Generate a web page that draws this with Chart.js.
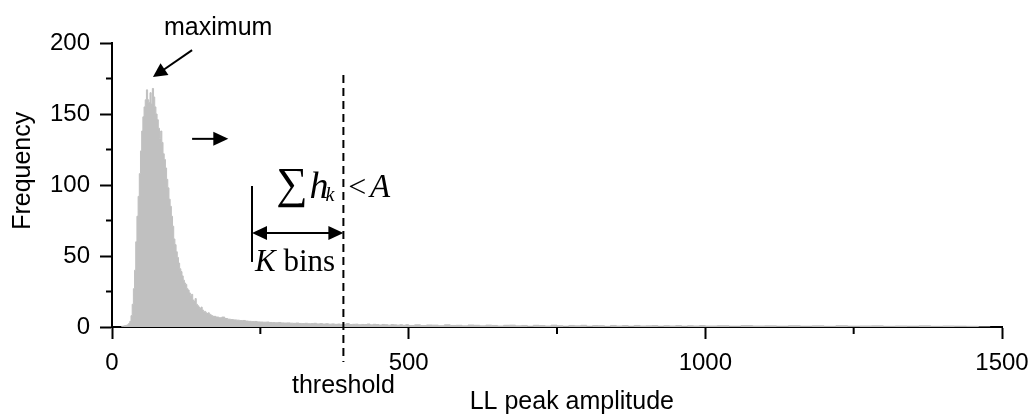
<!DOCTYPE html>
<html><head><meta charset="utf-8">
<script src="https://cdn.jsdelivr.net/npm/chart.js@4.4.0/dist/chart.umd.min.js"></script>
<style>html,body{margin:0;padding:0;background:#fff;}#wrap{width:1029px;height:414px;}</style>
</head><body><div id="wrap"><canvas id="c" width="1029" height="414"></canvas></div>
<script>
// ---- data (bin left edges, counts) ----
const binStart = [
  16,18,20,22,24,26,28,30,32,34,36,38,40,42,44,46,48,50,52,54,56,58,60,62,64,66,68,70,72,74,76,78,80,82,84,86,88,90,
  92,94,96,98,100,102,104,106,108,110,112,114,116,118,120,122,124,126,128,130,132,134,136,138,140,142,144,146,148,150,
  152,154,156,158,160,162,164,166,168,
  170,175,180,185,190,195,200,205,210,215,220,225,230,235,240,245,250,255,260,265,270,275,280,285,290,295,
  300,305,310,315,320,325,330,335,340,345,350,355,360,365,370,375,380,385,390,395,400,405,410,415,420,425,430,435,
  440,445,450,455,460,465,470,475,480,485,490,495,
  500,510,520,530,540,550,560,570,580,590,600,610,620,630,640,650,660,670,680,690,700,710,720,730,740,750,760,770,
  780,790,800,810,820,830,840,850,860,870,880,890,900,910,920,930,940,950,960,970,980,990,
  1000,1020,1040,1060,1080,1100,1120,1140,1160,1180,1200,1220,1240,1260,1280,1300,1320,1340,1360,1380,1400,1420,
  1440,1460,1480
];
const counts = [
  0.3,0.5,0.6,0.8,1,1.2,1.6,2.5,4,8,16,27,40,60,78,92,108,124,138,148,155,160,167,160,158,165,157,168,162,155,150,146,140,133,138,130,122,118,
  112,104,98,90,85,78,71,62,58,53,49,45,41,39,36,33,31,30,27,26,24,22,23,19,18,20,16,15,14,13,
  14,12,11,11,10,9.5,10,9,8.5,
  8,7.5,7,6.5,7,6,5.5,5.2,5,4.8,4.5,4.6,4.2,4,3.8,3.9,3.6,3.5,3.4,3.5,3.2,3.1,3,3.2,2.9,2.8,
  2.9,2.7,2.6,2.8,2.5,2.4,2.6,2.3,2.4,2.6,2.2,2.4,2.1,2.3,2.0,2.2,1.9,2.1,1.8,1.9,2.4,1.7,1.9,2.0,1.6,1.8,1.7,2.1,
  1.5,1.9,1.7,1.4,1.8,1.6,1.3,1.7,1.5,1.3,1.6,1.2,
  1.6,1.1,1.5,1.0,1.4,1.3,0.9,1.5,1.1,1.2,0.8,1.4,1.2,0.8,1.3,1.1,0.7,1.2,1.3,0.8,1.1,0.6,1.2,1.0,0.7,1.3,0.9,0.6,
  1.1,0.8,1.2,0.6,1.0,0.9,0.5,1.1,0.7,1.0,0.6,1.1,0.7,0.8,1.0,0.6,0.9,0.7,1.0,0.6,0.9,0.7,
  1.0,0.7,0.9,0.6,1.0,0.7,0.8,0.6,0.9,0.6,0.8,0.5,0.9,0.6,0.7,0.8,0.5,0.7,0.6,0.8,0.5,0.7,
  0.6,0.5,0
];
const xTicks = [0, 500, 1000, 1500];
const yTicks = [0, 50, 100, 150, 200];
const xMinorTicks = [250, 750, 1250];
const yMinorTicks = [25, 75, 125, 175];
const thresholdValue = 390;
const xTitle = 'LL peak amplitude';
const yTitle = 'Frequency';

const SANS = "'Liberation Sans', Arial, sans-serif";
const SERIF = "'Liberation Serif', 'Times New Roman', serif";

function arrowHead(ctx, x1, y1, x2, y2, len, half) {
  const a = Math.atan2(y2 - y1, x2 - x1);
  ctx.beginPath();
  ctx.moveTo(x2, y2);
  ctx.lineTo(x2 - len * Math.cos(a) + half * Math.sin(a), y2 - len * Math.sin(a) - half * Math.cos(a));
  ctx.lineTo(x2 - len * Math.cos(a) - half * Math.sin(a), y2 - len * Math.sin(a) + half * Math.cos(a));
  ctx.closePath();
  ctx.fill();
}
function arrowLine(ctx, x1, y1, x2, y2, len, half) {
  const a = Math.atan2(y2 - y1, x2 - x1);
  ctx.beginPath();
  ctx.moveTo(x1, y1);
  ctx.lineTo(x2 - (len - 1) * Math.cos(a), y2 - (len - 1) * Math.sin(a));
  ctx.stroke();
  arrowHead(ctx, x1, y1, x2, y2, len, half);
}

const annot = {
  id: 'annot',
  afterDraw(chart) {
    const ctx = chart.ctx, X = chart.scales.x, Y = chart.scales.y;
    const px = v => X.getPixelForValue(v), py = v => Y.getPixelForValue(v);
    ctx.save();
    ctx.strokeStyle = '#000'; ctx.fillStyle = '#000';
    // minor ticks
    ctx.lineWidth = 2;
    const x0 = px(0), y0 = py(0);
    yMinorTicks.forEach(v => { ctx.beginPath(); ctx.moveTo(x0 - 6, py(v)); ctx.lineTo(x0, py(v)); ctx.stroke(); });
    xMinorTicks.forEach(v => { ctx.beginPath(); ctx.moveTo(px(v), y0); ctx.lineTo(px(v), y0 + 7); ctx.stroke(); });

    // axis titles
    ctx.font = '25px ' + SANS;
    ctx.textAlign = 'center'; ctx.textBaseline = 'alphabetic';
    ctx.fillText(xTitle, px(775), py(-58));
    ctx.save();
    ctx.translate(px(-150), py(110));
    ctx.rotate(-Math.PI / 2);
    ctx.textBaseline = 'middle';
    ctx.fillText(yTitle, 0, 0);
    ctx.restore();

    // maximum label + arrow
    ctx.fillText('maximum', px(179), py(205.5));
    ctx.lineWidth = 2;
    arrowLine(ctx, px(135), py(195), px(69), py(176), 14, 7);
    // right arrow
    arrowLine(ctx, px(135), py(132.5), px(196), py(132.5), 15, 7);

    // threshold dashed line
    ctx.lineWidth = 2;
    ctx.setLineDash([8, 5]);
    ctx.beginPath(); ctx.moveTo(px(thresholdValue), py(177.5)); ctx.lineTo(px(thresholdValue), py(-24.6)); ctx.stroke();
    ctx.setLineDash([]);
    ctx.fillText('threshold', px(thresholdValue), py(-46.5));

    // K bins bracket
    ctx.lineWidth = 2;
    ctx.beginPath(); ctx.moveTo(px(236), py(99.3)); ctx.lineTo(px(236), py(45.8)); ctx.stroke();
    const ya = py(66.2), xl = px(236), xr = px(thresholdValue);
    ctx.beginPath(); ctx.moveTo(xl + 14, ya); ctx.lineTo(xr - 14, ya); ctx.stroke();
    arrowHead(ctx, xr, ya, xl, ya, 15, 7);
    arrowHead(ctx, xl, ya, xr, ya, 15, 7);

    // formula
    ctx.textAlign = 'left';
    ctx.font = '44px ' + SERIF;
    ctx.fillText('\u2211', px(277), py(90.5));
    ctx.font = 'italic 38px ' + SERIF;
    ctx.fillText('h', px(333), py(91));
    ctx.font = 'italic 20px ' + SERIF;
    ctx.fillText('k', px(360), py(88.5));
    ctx.font = '32px ' + SERIF;
    ctx.fillText('<', px(398), py(91.5));
    ctx.font = 'italic 33px ' + SERIF;
    ctx.fillText('A', px(435), py(91.5));
    ctx.font = 'italic 31px ' + SERIF;
    ctx.fillText('K', px(241), py(39.4));
    const kw = ctx.measureText('K ').width;
    ctx.font = '31px ' + SERIF;
    ctx.fillText('bins', px(241) + kw, py(39.4));
    ctx.restore();
  }
};

const points = binStart.map((x, i) => ({ x: x, y: counts[i] }));

new Chart(document.getElementById('c'), {
  type: 'line',
  data: { datasets: [{
    data: points,
    stepped: 'after',
    fill: 'origin',
    backgroundColor: '#c0c0c0',
    borderColor: '#c0c0c0',
    borderWidth: 1,
    pointRadius: 0,
    tension: 0
  }] },
  options: {
    responsive: false,
    animation: false,
    events: [],
    layout: { padding: { top: 43, right: 27, left: 0, bottom: 0 } },
    plugins: { legend: { display: false }, tooltip: { enabled: false } },
    scales: {
      x: {
        type: 'linear', min: 0, max: 1500, z: 1,
        afterBuildTicks: s => { s.ticks = xTicks.map(v => ({ value: v })); },
        afterFit: s => { s.height = 87; s.paddingLeft = 0; s.paddingRight = 0; },
        ticks: { color: '#000', font: { family: SANS, size: 24 }, padding: 10, maxRotation: 0, autoSkip: false,
                 callback: v => String(v) },
        grid: { display: true, drawOnChartArea: false, drawTicks: true, tickLength: 12, tickWidth: 2, tickColor: '#000' },
        border: { display: true, color: '#000', width: 2 }
      },
      y: {
        min: 0, max: 200, z: 1,
        afterBuildTicks: s => { s.ticks = yTicks.map(v => ({ value: v })); },
        afterFit: s => { s.width = 112; s.paddingTop = 0; s.paddingBottom = 0; },
        ticks: { color: '#000', font: { family: SANS, size: 24 }, padding: 10, callback: v => String(v) },
        grid: { display: true, drawOnChartArea: false, drawTicks: true, tickLength: 12, tickWidth: 2, tickColor: '#000' },
        border: { display: true, color: '#000', width: 2 }
      }
    }
  },
  plugins: [annot]
});
</script></body></html>
